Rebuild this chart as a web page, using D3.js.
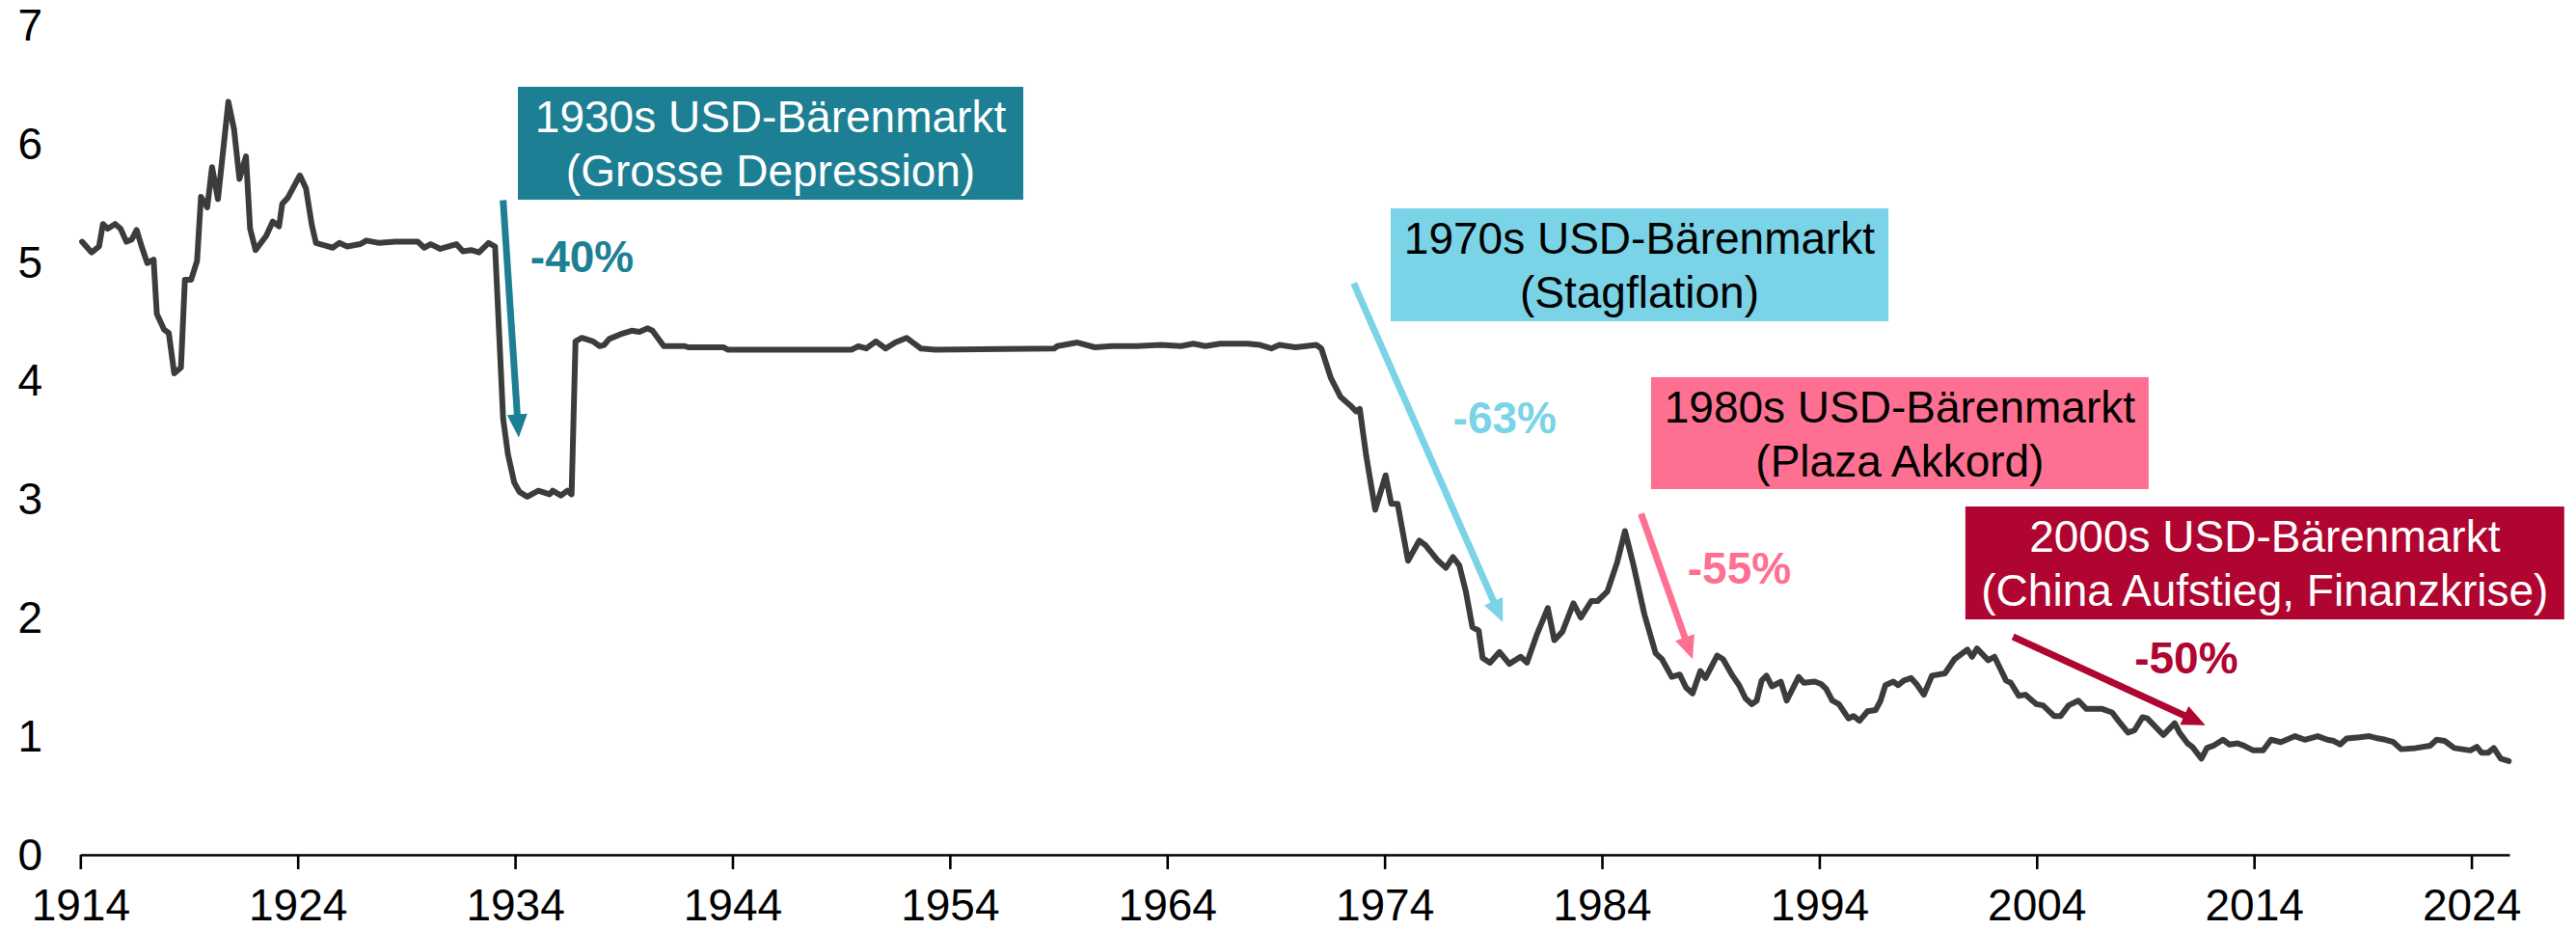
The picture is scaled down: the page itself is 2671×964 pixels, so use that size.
<!DOCTYPE html>
<html>
<head>
<meta charset="utf-8">
<script src="https://cdn.jsdelivr.net/npm/d3@7"></script>
<style>
  html, body { margin: 0; padding: 0; background: #fff; }
  svg { display: block; }
  text { font-family: "Liberation Sans", Arial, Helvetica, sans-serif; }
</style>
</head>
<body>
<svg id="chart" width="2671" height="964"></svg>
<script>
// ---- Data ----
const years = [
  1914.08,1914.52,1914.86,1915.04,1915.26,1915.60,1915.85,1916.12,1916.37,1916.59,1916.84,
  1917.08,1917.37,1917.52,1917.85,1918.07,1918.32,1918.63,1918.81,1919.10,1919.37,1919.55,1919.84,
  1920.06,1920.33,1920.81,1921.07,1921.32,1921.62,1921.81,1922.06,1922.55,1922.85,1923.14,1923.29,
  1923.54,1924.10,1924.38,1924.65,1924.84,1925.24,1925.61,1925.91,1926.28,1926.87,1927.16,1927.75,
  1928.49,1929.53,1929.82,1930.12,1930.56,1931.30,1931.60,1931.97,1932.34,1932.78,1933.08,1933.45,
  1933.67,1933.96,1934.20,1934.56,1935.07,1935.59,1935.73,1936.11,1936.41,1936.60,1936.78,1937.07,
  1937.59,1937.89,1938.10,1938.33,1938.85,1939.36,1939.72,1940.10,1940.32,1940.84,1941.81,1941.96,
  1943.58,1943.80,1949.49,1949.79,1950.16,1950.60,1951.05,1951.49,1952.01,1952.30,1952.67,1953.34,
  1958.80,1958.95,1959.87,1960.67,1961.46,1962.59,1963.72,1964.63,1965.20,1965.76,1966.44,1967.00,
  1967.69,1968.27,1968.79,1969.16,1969.90,1970.86,1971.09,1971.53,1971.98,1972.42,1972.69,1972.86,
  1973.16,1973.57,1974.05,1974.31,1974.60,1975.08,1975.60,1975.88,1976.41,1976.82,1977.15,1977.44,
  1977.74,1978.04,1978.33,1978.51,1978.85,1979.29,1979.74,1980.26,1980.55,1980.99,1981.51,1981.81,
  1982.18,1982.69,1983.03,1983.51,1983.80,1984.25,1984.69,1985.06,1985.43,1985.95,1986.47,1986.76,
  1987.21,1987.58,1987.87,1988.17,1988.53,1988.76,1989.30,1989.57,1990.01,1990.31,1990.60,1990.90,
  1991.12,1991.35,1991.57,1991.82,1992.23,1992.50,1993.05,1993.29,1993.79,1994.08,1994.31,1994.60,
  1994.90,1995.34,1995.57,1995.85,1996.22,1996.59,1996.82,1997.04,1997.41,1997.63,1997.89,1998.22,
  1998.47,1998.81,1999.18,1999.78,2000.22,2000.81,2001.03,2001.25,2001.77,2002.06,2002.59,2002.81,
  2003.18,2003.48,2003.99,2004.29,2004.80,2005.10,2005.47,2005.92,2006.29,2007.02,2007.47,2007.76,
  2008.20,2008.50,2008.87,2009.09,2009.83,2010.35,2010.57,2010.94,2011.16,2011.58,2011.83,2012.13,
  2012.57,2012.87,2013.24,2013.53,2013.97,2014.42,2014.78,2015.23,2015.89,2016.33,2016.93,2017.37,
  2017.67,2017.96,2018.26,2018.85,2019.30,2019.74,2020.04,2020.41,2020.77,2021.44,2022.10,2022.40,
  2022.77,2023.21,2023.58,2023.95,2024.25,2024.47,2024.76,2025.03,2025.35,2025.72
];
const values = [
  5.17,5.08,5.13,5.32,5.28,5.32,5.28,5.17,5.19,5.27,5.12,
  4.99,5.02,4.56,4.43,4.40,4.06,4.11,4.85,4.85,5.01,5.55,5.46,
  5.80,5.53,6.35,6.12,5.70,5.89,5.28,5.10,5.22,5.34,5.30,5.49,
  5.54,5.73,5.62,5.31,5.16,5.14,5.12,5.16,5.13,5.15,5.18,5.16,
  5.17,5.17,5.12,5.15,5.11,5.15,5.09,5.10,5.08,5.16,5.13,3.68,
  3.38,3.14,3.06,3.02,3.07,3.04,3.07,3.03,3.07,3.04,4.33,4.36,
  4.33,4.29,4.30,4.35,4.39,4.42,4.41,4.44,4.42,4.29,4.29,4.28,
  4.28,4.26,4.26,4.29,4.27,4.33,4.27,4.32,4.36,4.32,4.27,4.26,
  4.27,4.29,4.32,4.28,4.29,4.29,4.30,4.29,4.31,4.29,4.31,4.31,
  4.31,4.30,4.27,4.30,4.28,4.30,4.27,4.02,3.86,3.79,3.74,3.76,
  3.36,2.91,3.20,2.96,2.96,2.48,2.65,2.61,2.49,2.42,2.51,2.44,
  2.22,1.92,1.89,1.66,1.62,1.71,1.61,1.67,1.62,1.85,2.08,1.81,
  1.88,2.12,2.00,2.14,2.14,2.22,2.46,2.73,2.46,2.03,1.70,1.65,
  1.50,1.52,1.41,1.36,1.55,1.49,1.68,1.65,1.51,1.43,1.32,1.27,
  1.30,1.47,1.51,1.42,1.46,1.30,1.50,1.45,1.46,1.44,1.40,1.30,
  1.27,1.15,1.17,1.13,1.21,1.22,1.30,1.43,1.46,1.43,1.47,1.49,
  1.44,1.35,1.51,1.53,1.65,1.73,1.67,1.74,1.64,1.67,1.47,1.45,
  1.34,1.35,1.27,1.26,1.17,1.17,1.26,1.30,1.23,1.23,1.20,1.13,
  1.03,1.05,1.16,1.15,1.01,1.11,1.03,0.94,0.91,0.81,0.90,0.92,
  0.97,0.93,0.94,0.92,0.88,0.88,0.97,0.95,1.00,0.97,1.00,0.97,
  0.96,0.93,0.98,0.99,1.00,0.98,0.97,0.95,0.89,0.90,0.92,0.97,
  0.96,0.90,0.89,0.88,0.91,0.86,0.86,0.90,0.81,0.79
];

// Axis ticks
const xTickYears = [1914,1924,1934,1944,1954,1964,1974,1984,1994,2004,2014,2024];
const yTickValues = [0,1,2,3,4,5,6,7];

// Annotation content
const boxLines = [
  ["1930s USD-Bärenmarkt", "(Grosse Depression)"],
  ["1970s USD-Bärenmarkt", "(Stagflation)"],
  ["1980s USD-Bärenmarkt", "(Plaza Akkord)"],
  ["2000s USD-Bärenmarkt", "(China Aufstieg, Finanzkrise)"]
];
const pctLabels = ["-40%", "-63%", "-55%", "-50%"];

// Annotation placement (in data coordinates: year / value)
const boxX0 = [1934.13, 1974.28, 1986.26, 2000.72];
const boxX1 = [1957.38, 1997.18, 2009.15, 2028.27];
const boxTop = [6.477, 5.452, 4.028, 2.937];
const boxBottom = [5.525, 4.50, 3.084, 1.985];
const pctX = [1934.70, 1977.15, 1987.94, 2008.50];
const pctY = [4.917, 3.553, 2.286, 1.527];
const arrowFromX = [1933.45, 1972.58, 1985.80, 2002.91];
const arrowFromY = [5.52, 4.82, 2.876, 1.839];
const arrowToX = [1934.17, 1979.44, 1988.17, 2011.76];
const arrowToY = [3.52, 1.96, 1.649, 1.093];

// Styles
const boxFill = ["#1c7f93", "#7ad3e6", "#fe7091", "#af0530"];
const boxText = ["#ffffff", "#000000", "#000000", "#ffffff"];

// ---- Drawing ----
const svg = d3.select("#chart");
const x = d3.scaleLinear().domain([1914, 2025.75]).range([83.3, 2602]);
const y = d3.scaleLinear().domain([0, 7]).range([886, 25.7]);

// Y labels (no axis line)
svg.append("g").selectAll("text").data(yTickValues).join("text")
  .attr("x", 44).attr("y", d => y(d) + 16)
  .attr("text-anchor", "end")
  .attr("font-size", 46).attr("fill", "#000")
  .text(d => d);

// X axis
const xAxis = d3.axisBottom(x).tickValues(xTickYears).tickFormat(d3.format("d"))
  .tickSize(15).tickPadding(20).tickSizeOuter(0);
const gx = svg.append("g").attr("transform", `translate(0,${y(0)})`).call(xAxis);
gx.select(".domain").attr("stroke", "#000").attr("stroke-width", 2.6);
gx.selectAll(".tick line").attr("stroke", "#000").attr("stroke-width", 2.6);
gx.selectAll(".tick text").attr("font-size", 46).attr("fill", "#000")
  .attr("font-family", '"Liberation Sans", Arial, sans-serif').attr("dy", "0.71em");

// Line
const series = years.map((yr, i) => ({ yr, v: values[i] }));
svg.append("path").datum(series)
  .attr("fill", "none").attr("stroke", "#3b3d3b").attr("stroke-width", 6)
  .attr("stroke-linejoin", "round").attr("stroke-linecap", "round")
  .attr("d", d3.line().x(d => x(d.yr)).y(d => y(d.v)));

// Annotations
const ann = svg.append("g");
boxLines.forEach((lines, i) => {
  const bx0 = x(boxX0[i]), bx1 = x(boxX1[i]);
  const by0 = y(boxTop[i]), by1 = y(boxBottom[i]);
  ann.append("rect").attr("x", bx0).attr("y", by0)
    .attr("width", bx1 - bx0).attr("height", by1 - by0).attr("fill", boxFill[i]);
  lines.forEach((t, j) => {
    ann.append("text").attr("x", (bx0 + bx1) / 2).attr("y", by0 + 46.7 + j * 56.6)
      .attr("text-anchor", "middle").attr("font-size", 46).attr("fill", boxText[i]).text(t);
  });
  // Percent label
  ann.append("text").attr("x", x(pctX[i])).attr("y", y(pctY[i]))
    .attr("font-size", 46).attr("font-weight", "bold").attr("fill", boxFill[i])
    .text(pctLabels[i]);
  // Arrow
  const sx = x(arrowFromX[i]), sy = y(arrowFromY[i]);
  const tx = x(arrowToX[i]), ty = y(arrowToY[i]);
  const len = Math.hypot(tx - sx, ty - sy);
  const ux = (tx - sx) / len, uy = (ty - sy) / len;
  const headLen = 24, halfW = 10.5;
  const bxh = tx - ux * headLen, byh = ty - uy * headLen;
  ann.append("line").attr("x1", sx).attr("y1", sy).attr("x2", bxh + ux * 2).attr("y2", byh + uy * 2)
    .attr("stroke", boxFill[i]).attr("stroke-width", 7);
  ann.append("polygon")
    .attr("points", [[tx, ty], [bxh - uy * halfW, byh + ux * halfW], [bxh + uy * halfW, byh - ux * halfW]]
      .map(p => p.join(",")).join(" "))
    .attr("fill", boxFill[i]);
});
</script>
</body>
</html>
